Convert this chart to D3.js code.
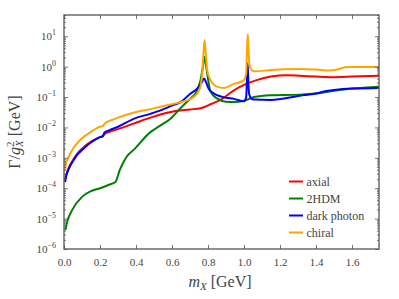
<!DOCTYPE html>
<html>
<head>
<meta charset="utf-8">
<script src="https://cdn.jsdelivr.net/npm/d3@7"></script>
<style>
  body { margin: 0; background: #fff; }
  text { font-family: "Liberation Serif", "DejaVu Serif", serif; fill: #444; }
</style>
</head>
<body>
<svg id="chart"></svg>
<script>
// ---- data (mass in GeV, width / g^2 in GeV) ----
const axialMass  = [0.006, 0.01, 0.02, 0.035, 0.05, 0.075, 0.1, 0.15, 0.2, 0.215, 0.225, 0.25, 0.3, 0.39, 0.48, 0.54, 0.6, 0.7, 0.76, 0.82, 0.87, 0.94, 1.0, 1.07, 1.15, 1.24, 1.31, 1.4, 1.5, 1.6, 1.75];
const axialWidth = [1.8e-4, 2.4e-4, 3.8e-4, 6e-4, 8.5e-4, 1.4e-3, 2e-3, 3.4e-3, 4.8e-3, 5.0e-3, 6.0e-3, 7.0e-3, 8.8e-3, 0.0136, 0.021, 0.027, 0.033, 0.039, 0.043, 0.06, 0.08, 0.16, 0.25, 0.36, 0.47, 0.52, 0.5, 0.47, 0.45, 0.47, 0.5];

const hdmMass  = [0.008, 0.018, 0.045, 0.1, 0.15, 0.2, 0.25, 0.286, 0.31, 0.346, 0.39, 0.48, 0.53, 0.59, 0.647, 0.703, 0.73, 0.758, 0.772, 0.781, 0.79, 0.8, 0.814, 0.85, 0.9, 0.944, 1.0, 1.055, 1.147, 1.31, 1.4, 1.5, 1.6, 1.75];
const hdmWidth = [4.2e-6, 8e-6, 1.9e-5, 5.2e-5, 8e-5, 1.0e-4, 1.3e-4, 1.6e-4, 4e-4, 1.05e-3, 1.9e-3, 7e-3, 0.011, 0.019, 0.043, 0.09, 0.13, 0.35, 1.0, 2.1, 1.0, 0.4, 0.15, 0.09, 0.07, 0.068, 0.075, 0.1, 0.115, 0.12, 0.13, 0.16, 0.19, 0.22];

const darkMass  = [0.006, 0.01, 0.02, 0.035, 0.05, 0.075, 0.1, 0.15, 0.2, 0.215, 0.225, 0.25, 0.3, 0.39, 0.48, 0.54, 0.6, 0.647, 0.703, 0.74, 0.765, 0.778, 0.79, 0.805, 0.85, 0.9, 0.944, 1.0, 1.012, 1.017, 1.02, 1.023, 1.028, 1.04, 1.055, 1.15, 1.31, 1.4, 1.45, 1.5, 1.6, 1.75];
const darkWidth = [1.6e-4, 2.2e-4, 3.5e-4, 5.5e-4, 7.8e-4, 1.3e-3, 1.8e-3, 3.2e-3, 4.8e-3, 5.2e-3, 6.8e-3, 8.0e-3, 0.0105, 0.0195, 0.028, 0.037, 0.052, 0.068, 0.13, 0.19, 0.3, 0.41, 0.3, 0.18, 0.115, 0.095, 0.087, 0.072, 0.1, 0.5, 1.3, 0.5, 0.13, 0.09, 0.083, 0.08, 0.11, 0.13, 0.155, 0.17, 0.19, 0.2];

const chiralMass  = [0.006, 0.01, 0.02, 0.035, 0.05, 0.075, 0.1, 0.15, 0.2, 0.215, 0.23, 0.26, 0.3, 0.39, 0.48, 0.536, 0.6, 0.647, 0.7, 0.74, 0.758, 0.768, 0.775, 0.781, 0.788, 0.795, 0.814, 0.85, 0.888, 0.944, 1.0, 1.012, 1.017, 1.021, 1.025, 1.03, 1.04, 1.055, 1.15, 1.22, 1.31, 1.4, 1.47, 1.52, 1.56, 1.6, 1.75];
const chiralWidth = [4e-4, 6e-4, 9e-4, 1.4e-3, 2e-3, 3.1e-3, 4.4e-3, 7.2e-3, 0.0105, 0.011, 0.014, 0.017, 0.021, 0.031, 0.04, 0.048, 0.058, 0.068, 0.085, 0.13, 0.22, 0.6, 2.8, 7.5, 2.5, 0.8, 0.36, 0.22, 0.2, 0.27, 0.36, 0.6, 4, 11.5, 4, 1.2, 0.8, 0.7, 0.77, 0.82, 0.84, 0.8, 0.74, 0.8, 0.95, 0.98, 0.98];

const seriesNames  = ["axial", "2HDM", "dark photon", "chiral"];
const seriesColors = ["#ff0000", "#008000", "#0000ff", "#ffa500"];
const xTicks = [0.0, 0.2, 0.4, 0.6, 0.8, 1.0, 1.2, 1.4, 1.6];
const yExponents = [-6, -5, -4, -3, -2, -1, 0, 1];

const series = [
  { mass: axialMass,  width: axialWidth },
  { mass: hdmMass,    width: hdmWidth },
  { mass: darkMass,   width: darkWidth },
  { mass: chiralMass, width: chiralWidth }
];

const W = 399, H = 299;
const margin = { top: 15, right: 20, bottom: 50, left: 64 };
const innerW = W - margin.left - margin.right;   // 315
const innerH = H - margin.top - margin.bottom;   // 234

const svg = d3.select("#chart").attr("width", W).attr("height", H);

const x = d3.scaleLinear().domain([0, 1.75]).range([margin.left, margin.left + innerW]);
const y = d3.scaleLog().domain([1e-6, 50]).range([margin.top + innerH, margin.top]);

// minor ticks for the log axis
const minorTicks = [];
yExponents.forEach(k => {
  for (let j = 2; j <= 9; j++) {
    const v = j * Math.pow(10, k);
    if (v <= 50) minorTicks.push(v);
  }
});
const majorY = yExponents.map(k => Math.pow(10, k));

// clip the curves to the plot box
svg.append("clipPath").attr("id", "plotclip")
  .append("rect")
  .attr("x", margin.left).attr("y", margin.top)
  .attr("width", innerW).attr("height", innerH);

const line = d3.line()
  .x(d => x(d[0]))
  .y(d => y(d[1]))
  .curve(d3.curveMonotoneX);

svg.append("g").attr("clip-path", "url(#plotclip)")
  .selectAll("path")
  .data(series)
  .join("path")
    .attr("d", s => line(s.mass.map((m, i) => [m, s.width[i]])))
    .attr("fill", "none")
    .attr("stroke", (s, i) => seriesColors[i])
    .attr("stroke-width", 2)
    .attr("stroke-linejoin", "round");

// axes -- ticks pointing inward
const bottom = svg.append("g")
  .attr("transform", `translate(0,${margin.top + innerH})`)
  .call(d3.axisBottom(x).tickValues(xTicks).tickFormat(d3.format(".1f"))
    .tickSizeInner(-4).tickSizeOuter(0).tickPadding(9));

svg.append("g")
  .attr("transform", `translate(0,${margin.top})`)
  .call(d3.axisTop(x).tickValues(xTicks).tickFormat("")
    .tickSizeInner(-4).tickSizeOuter(0));

svg.append("g")
  .attr("transform", `translate(${margin.left},0)`)
  .call(d3.axisLeft(y).tickValues(majorY).tickFormat("")
    .tickSizeInner(-4).tickSizeOuter(0));

svg.append("g")
  .attr("transform", `translate(${margin.left},0)`)
  .call(d3.axisLeft(y).tickValues(minorTicks).tickFormat("")
    .tickSizeInner(-2).tickSizeOuter(0));

svg.append("g")
  .attr("transform", `translate(${margin.left + innerW},0)`)
  .call(d3.axisRight(y).tickValues(majorY).tickFormat("")
    .tickSizeInner(-4).tickSizeOuter(0));

svg.append("g")
  .attr("transform", `translate(${margin.left + innerW},0)`)
  .call(d3.axisRight(y).tickValues(minorTicks).tickFormat("")
    .tickSizeInner(-2).tickSizeOuter(0));

svg.selectAll(".domain").remove();
svg.selectAll(".tick line").attr("stroke", "#555").attr("stroke-width", 0.8);

bottom.selectAll(".tick text")
  .style("font-family", '"Liberation Serif", serif')
  .attr("font-size", 11).attr("fill", "#444");

// y tick labels as 10^k
svg.append("g").selectAll("text")
  .data(yExponents)
  .join("text")
    .attr("x", margin.left - 8)
    .attr("y", k => y(Math.pow(10, k)) + 4)
    .attr("text-anchor", "end")
    .attr("font-size", 11)
    .each(function (k) {
      const t = d3.select(this);
      t.append("tspan").text("10");
      t.append("tspan").attr("dy", -5).attr("font-size", 8)
        .text(k < 0 ? "\u2212" + (-k) : String(k));
    });

// frame
svg.append("rect")
  .attr("x", margin.left).attr("y", margin.top)
  .attr("width", innerW).attr("height", innerH)
  .attr("fill", "none").attr("stroke", "#555").attr("stroke-width", 1.3);

// axis titles
const xLabel = svg.append("text")
  .attr("x", 220).attr("y", 287)
  .attr("text-anchor", "middle").attr("font-size", 16);
xLabel.append("tspan").attr("font-style", "italic").text("m");
xLabel.append("tspan").attr("font-style", "italic").attr("font-size", 11).attr("dy", 3).text("X");
xLabel.append("tspan").attr("dy", -3).text(" [GeV]");

const yLabel = svg.append("text")
  .attr("transform", `translate(20,${margin.top + innerH / 2}) rotate(-90)`)
  .attr("text-anchor", "middle").attr("font-size", 16);
yLabel.append("tspan").text("\u0393/");
yLabel.append("tspan").attr("font-style", "italic").text("g");
yLabel.append("tspan").attr("font-size", 11).attr("dy", -6).text("2");
yLabel.append("tspan").attr("font-size", 11).attr("font-style", "italic").attr("dx", -5.5).attr("dy", 9).text("X");
yLabel.append("tspan").attr("dy", -3).text(" [GeV]");

// legend
const legend = svg.append("g").selectAll("g")
  .data(seriesNames)
  .join("g")
    .attr("transform", (d, i) => `translate(289,${181.5 + i * 17})`);
legend.append("line")
  .attr("x1", 0).attr("x2", 14)
  .attr("stroke", (d, i) => seriesColors[i]).attr("stroke-width", 2);
legend.append("text")
  .attr("x", 17.5).attr("y", 4)
  .attr("font-size", 12)
  .text(d => d);
</script>
</body>
</html>
